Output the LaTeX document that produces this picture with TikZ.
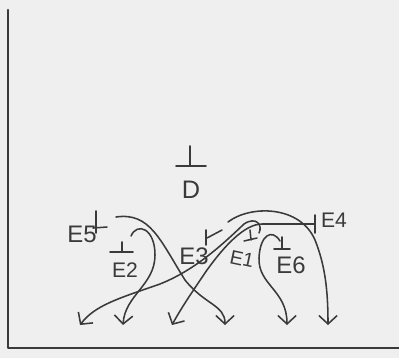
\documentclass[tikz,border=0pt]{standalone}
\usepackage{fontspec}
\setmainfont{Liberation Sans}
\usetikzlibrary{arrows.meta}
\definecolor{inkc}{HTML}{3A3A3A}
\definecolor{paper}{HTML}{EFEFEF}
\begin{document}
\begin{tikzpicture}[x=0.025cm,y=-0.025cm,line cap=round,line join=round,
  ink/.style={draw=inkc,line width=1.1pt},
  tickmark/.style={draw=inkc,line width=1.1pt},
  lbl/.style={text=inkc,inner sep=0pt,font=\fontsize{15}{15}\selectfont},
  arr/.style={ink,-{Straight Barb[length=6pt,width=13pt]}}]
\fill[paper] (0,0) rectangle (399,358);
\useasboundingbox (0,0) rectangle (399,358);
% frame
\draw[inkc,line width=1.8pt] (8,10) -- (8,348) -- (399,348);
% D
\draw[tickmark] (176,166) -- (206,166) (190,146) -- (190,166);
\node[lbl,font=\fontsize{18}{18}\selectfont] (D) at (191,190) {D};
% E5
\node[lbl,font=\fontsize{17}{17}\selectfont] (E5) at (82,234) {E5};
\draw[tickmark] (96,211) -- (96,233) (93,228) -- (107,227);
% E2
\draw[tickmark] (110,252) -- (133,252) (122,242) -- (122,252);
\node[lbl] (E2) at (125,270) {E2};
% E3
\node[lbl,font=\fontsize{17}{17}\selectfont] (E3) at (194,256) {E3};
\draw[tickmark] (206,230) -- (206,245) (207,238) -- (222,230);
% E1
\draw[tickmark] (244,241) -- (257,238) (250,230) -- (251,240);
\node[lbl,font=\fontsize{14}{14}\selectfont,rotate=-12] (E1) at (242,259) {E1};
% E6
\draw[tickmark] (274,249) -- (290,249) (282,237) -- (282,249);
\node[lbl,font=\fontsize{17}{17}\selectfont] (E6) at (291,265) {E6};
% E4
\node[lbl] (E4) at (334,220) {E4};
\draw[tickmark] (315,215) -- (315,233);
% coordinates
\coordinate (s5) at (116,217);
\coordinate (a5) at (225,325);
\coordinate (s2) at (131,236);
\coordinate (a2) at (123,325);
\coordinate (h1) at (259,233);
\coordinate (a1) at (80,325);
\coordinate (t4) at (315,224);
\coordinate (a3) at (172,325);
\coordinate (s3) at (228,222);
\coordinate (a4) at (328,325);
\coordinate (s6) at (280,241);
\coordinate (a6) at (287,325);
% connectors
\draw[arr] (s5) .. controls (150,212) and (160,240) .. (185,280) .. controls (205,305) and (225,305) .. (a5);
\draw[arr] (s2) .. controls (137,222) and (155,228) .. (155,255) .. controls (155,285) and (125,295) .. (a2);
\draw[arr] (h1) .. controls (263,225) and (256,216) .. (244,224) .. controls (222,245) and (195,270) .. (160,284) .. controls (120,298) and (95,305) .. (a1);
\draw[arr] (t4) -- (262,224) .. controls (245,224) and (225,245) .. (207,270) .. controls (192,292) and (180,310) .. (a3);
\draw[arr] (s3) .. controls (250,205) and (300,205) .. (315,240) .. controls (325,265) and (328,290) .. (a4);
\draw[arr] (s6) .. controls (272,228) and (260,235) .. (259,258) .. controls (258,285) and (287,290) .. (a6);
\end{tikzpicture}
\end{document}
